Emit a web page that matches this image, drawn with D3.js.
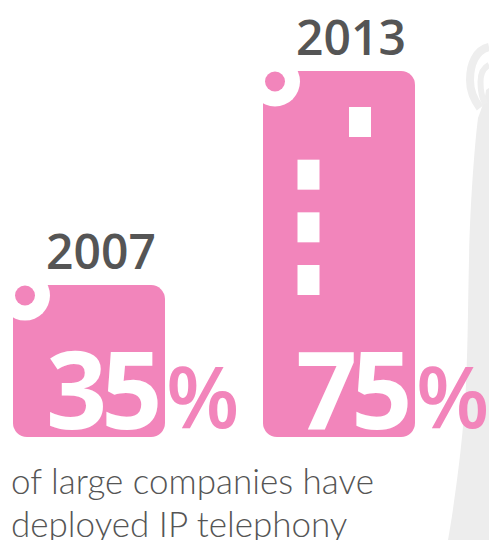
<!DOCTYPE html>
<html>
<head>
<meta charset="utf-8">
<script src="https://cdnjs.cloudflare.com/ajax/libs/d3/7.8.5/d3.min.js"></script>
<style>
  html, body { margin: 0; padding: 0; background: #fff; }
  svg { display: block; }
</style>
</head>
<body>
<svg id="chart" width="489" height="540"></svg>
<script>
const years = ['2007', '2013']
const shares = [35, 75]
const captionLines = ['of large companies have', 'deployed IP telephony']
// white windows on the 2013 bar, as column and row numbers
const windowCols = [1, 0, 0, 0]
const windowRows = [0, 1, 2, 3]

const pink = '#f285bb'
const grey = '#555555'
const font = '"Open Sans", "Noto Sans", sans-serif'

const svg = d3.select('#chart')

// grey phone shape behind the chart, bleeding off the right edge
const backdrop = svg.append('g').attr('fill', 'none').attr('stroke', '#eeeeee')
backdrop.append('path')
  .attr('d', 'M489,88 L486,90 C485,100 481,110 478,118 C474,150 470,210 469,260 C468,300 468,340 466,385 C464,430 456,495 448,540 L489,540 Z')
  .attr('fill', '#ededed').attr('stroke', 'none')
backdrop.append('path').attr('d', 'M489,47 C476,50 470,64 470,80 C470,90 474,100 480,108').attr('stroke-width', 8)
backdrop.append('path').attr('d', 'M489,65 C483,68 480.5,74 480.5,82 C480.5,90 482,98 485,104').attr('stroke-width', 6)

const x = d3.scaleBand().domain(years).range([13, 415]).paddingInner(0.392)
// bars in the reference are not drawn from zero
const y = d3.scaleLinear().domain([6.6, 75]).range([437, 71])

const bars = svg.selectAll('g.bar')
  .data(years.map((year, i) => ({year, share: shares[i]})))
  .enter()
  .append('g')
  .attr('class', 'bar')

bars.append('rect')
  .attr('x', d => x(d.year))
  .attr('y', d => y(d.share))
  .attr('width', x.bandwidth())
  .attr('height', d => y.range()[0] - y(d.share))
  .attr('rx', 14)
  .style('fill', pink)

// white notch with a pink dot on the top left corner
bars.append('circle')
  .attr('cx', d => x(d.year) + 12)
  .attr('cy', d => y(d.share) + 10.5)
  .attr('r', 25)
  .style('fill', '#fff')
bars.append('rect')
  .attr('x', d => x(d.year) - 13)
  .attr('y', d => y(d.share) - 14)
  .attr('width', 13)
  .attr('height', 50)
  .style('fill', '#fff')
bars.append('rect')
  .attr('x', d => x(d.year) - 13)
  .attr('y', d => y(d.share) - 14)
  .attr('width', 50)
  .attr('height', 14)
  .style('fill', '#fff')
bars.append('circle')
  .attr('cx', d => x(d.year) + 12)
  .attr('cy', d => y(d.share) + 10.5)
  .attr('r', 10)
  .style('fill', pink)

const colX = d3.scalePoint().domain([0, 1]).range([297.5, 349])
const rowY = d3.scalePoint().domain([0, 1, 2, 3]).range([107, 265])

svg.selectAll('rect.window')
  .data(windowCols.map((col, i) => ({col, row: windowRows[i]})))
  .enter()
  .append('rect')
  .attr('class', 'window')
  .attr('x', d => colX(d.col))
  .attr('y', d => rowY(d.row))
  .attr('width', 22)
  .attr('height', 30)
  .style('fill', '#fff')

bars.append('text')
  .attr('x', d => x(d.year) + x.bandwidth() / 2 + 12)
  .attr('y', d => y(d.share) - 16)
  .attr('text-anchor', 'middle')
  .attr('font-family', font)
  .attr('font-weight', 600)
  .attr('font-size', 48)
  .style('fill', grey)
  .text(d => d.year)

// the number is white on the bar, the percent sign sits beside it
bars.append('text')
  .attr('x', d => x(d.year) + 33)
  .attr('y', 429)
  .attr('font-family', font)
  .attr('font-weight', 700)
  .attr('font-size', 107)
  .attr('letter-spacing', -6)
  .style('fill', '#fff')
  .text(d => d.share)

bars.append('text')
  .attr('x', d => x(d.year) + 153)
  .attr('y', 428)
  .attr('font-family', font)
  .attr('font-weight', 600)
  .attr('font-size', 85)
  .style('fill', pink)
  .text('%')

svg.selectAll('text.caption')
  .data(captionLines)
  .enter()
  .append('text')
  .attr('class', 'caption')
  .attr('x', 11)
  .attr('y', (d, i) => 494 + i * 43)
  .attr('font-family', 'Lato, sans-serif')
  .attr('font-weight', 300)
  .attr('font-size', 35)
  .style('fill', grey)
  .text(d => d)
</script>
</body>
</html>
